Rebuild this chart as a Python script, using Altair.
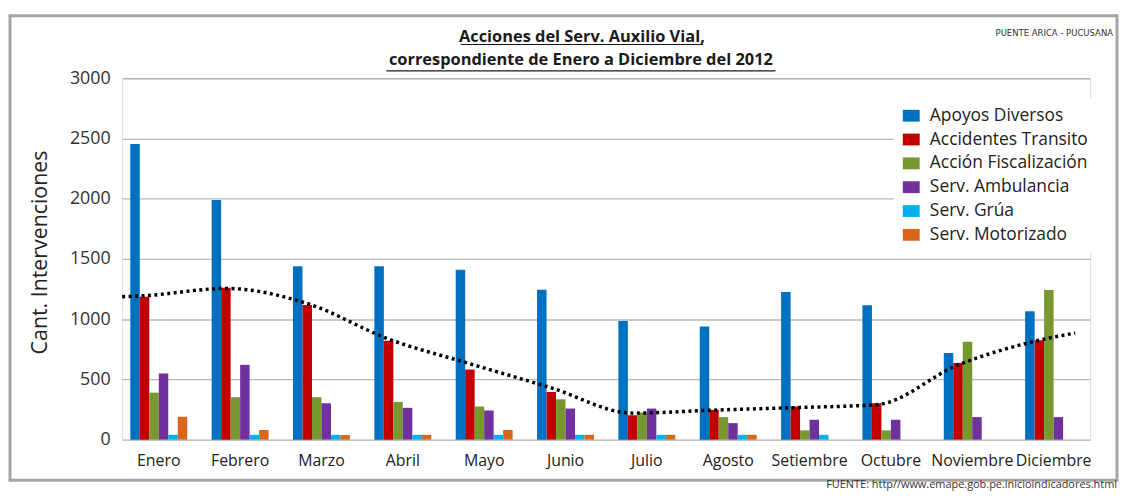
import altair as alt
import pandas as pd

months = ["Enero", "Febrero", "Marzo", "Abril", "Mayo", "Junio", "Julio",
          "Agosto", "Setiembre", "Octubre", "Noviembre", "Diciembre"]
series = ["Apoyos Diversos", "Accidentes Transito", "Acción Fiscalización",
          "Serv. Ambulancia", "Serv. Grúa", "Serv. Motorizado"]
colors = ["#0070C0", "#C00000", "#77982E", "#7030A0", "#00B0F0", "#D9661A"]

apoyos = [2455, 1990, 1440, 1440, 1410, 1245, 985, 940, 1225, 1115, 720, 1065]
accidentes = [1187, 1261, 1118, 821, 582, 396, 203, 247, 275, 302, 637, 824]
fiscalizacion = [390, 352, 352, 313, 275, 335, 225, 187, 77, 77, 813, 1242]
ambulancia = [549, 621, 302, 264, 242, 258, 258, 137, 165, 165, 187, 187]
grua = [40, 40, 40, 40, 40, 40, 40, 40, 40, 0, 0, 0]
motorizado = [190, 80, 38, 40, 80, 40, 40, 40, 0, 0, 0, 0]

# dotted trend curve (month index, value); it runs through
# the tops of the "Accidentes Transito" bars and a little past both ends
trend_idx = [0.725, 1, 2, 3, 4, 5, 6, 7, 8, 9, 10, 11, 12, 12.44]
trend_val = [1187, 1195, 1255, 1130, 835, 630, 430, 220, 245, 266, 290, 620, 825, 885]

y_ticks = [0, 500, 1000, 1500, 2000, 2500, 3000]
title_lines = ["Acciones del Serv. Auxilio Vial,",
               "correspondiente de Enero a Diciembre del 2012"]
y_title = "Cant. Intervenciones"
corner_text = "PUENTE ARICA - PUCUSANA"
source_text = "FUENTE: http//www.emape.gob.pe.inicioindicadores.html"

all_series = [apoyos, accidentes, fiscalizacion, ambulancia, grua, motorizado]
rows = []
for i, m in enumerate(months):
    for s, vals in zip(series, all_series):
        rows.append({"mes": m, "serie": s, "valor": vals[i]})
df = pd.DataFrame(rows)

df_trend = pd.DataFrame({"idx": trend_idx, "valor": trend_val})
one = pd.DataFrame({"k": [0]})

W, H = 975, 364
FONT = "Open Sans"
P_IN, P_OUT = 0.3, 0.1
# quantitative domain matched to the band scale: index k falls on the red (2nd) bar of month k
q_lo = 1 - P_OUT - (1 - P_IN) * 1.5 / len(series)
q_hi = q_lo + (len(months) - P_IN + 2 * P_OUT)

frame = alt.Chart(one).mark_rect(fillOpacity=0, stroke="#a6a6a6", strokeWidth=3).encode(
    x=alt.value(-113), x2=alt.value(W + 27), y=alt.value(-63), y2=alt.value(H + 41)
)

bars = alt.Chart(df).mark_bar().encode(
    x=alt.X("mes:N", sort=months,
            scale=alt.Scale(paddingInner=P_IN, paddingOuter=P_OUT),
            axis=alt.Axis(title=None, labelAngle=0, labelFontSize=16, labelPadding=13,
                          ticks=False, domain=False, grid=False, labelColor="#222222",
                          labelFont=FONT)),
    xOffset=alt.XOffset("serie:N", sort=series,
                        scale=alt.Scale(paddingInner=0, paddingOuter=0)),
    y=alt.Y("valor:Q", scale=alt.Scale(domain=[0, 3000], nice=False),
            axis=alt.Axis(values=y_ticks, format="d", title=y_title, titleFontSize=21.5,
                          titleFontWeight="normal", titleColor="#222222", titleFont=FONT,
                          titlePadding=18, titleY=175, labelFontSize=18, labelColor="#333333",
                          labelFont=FONT, ticks=False, domain=False, labelPadding=12,
                          gridColor="#b8b8b8", gridWidth=1.3)),
    color=alt.Color("serie:N", sort=series,
                    scale=alt.Scale(domain=series, range=colors),
                    legend=alt.Legend(title=None, orient="none", legendX=777, legendY=20,
                                      fillColor="white", padding=9,
                                      symbolType="M-1,-0.7H1V0.7H-1Z", symbolSize=289,
                                      symbolStrokeWidth=0, labelFontSize=17.5, labelFont=FONT,
                                      labelColor="#222222", labelOffset=10, rowPadding=5,
                                      labelLimit=300)),
)

trend = alt.Chart(df_trend).mark_line(
    color="black", strokeDash=[3, 3.5], strokeWidth=3.5, strokeCap="butt",
    interpolate="monotone"
).encode(
    x=alt.X("idx:Q", scale=alt.Scale(domain=[q_lo, q_hi], nice=False, zero=False), axis=None),
    y=alt.Y("valor:Q"),
)

t1 = alt.Chart(one).mark_text(text=title_lines[0], fontSize=16.5, fontWeight="bold", font=FONT,
                              align="center", baseline="alphabetic", color="#1a1a1a").encode(
    x=alt.value(463), y=alt.value(-36.5))
t2 = alt.Chart(one).mark_text(text=title_lines[1], fontSize=16.5, fontWeight="bold", font=FONT,
                              align="center", baseline="alphabetic", color="#1a1a1a").encode(
    x=alt.value(462), y=alt.value(-13))
u1 = alt.Chart(one).mark_rule(color="#1a1a1a", strokeWidth=1.2).encode(
    x=alt.value(341), x2=alt.value(585), y=alt.value(-34))
u2 = alt.Chart(one).mark_rule(color="#1a1a1a", strokeWidth=1.2).encode(
    x=alt.value(266), x2=alt.value(658), y=alt.value(-7.5))
corner = alt.Chart(one).mark_text(text=corner_text, fontSize=9.5,
                                  font="DejaVu Sans Condensed, Open Sans, sans-serif",
                                  align="right", baseline="alphabetic", color="#333333").encode(
    x=alt.value(998), y=alt.value(-43))
source = alt.Chart(one).mark_text(text=source_text, fontSize=11, font=FONT,
                                  align="right", baseline="alphabetic", color="#333333").encode(
    x=alt.value(W + 27), y=alt.value(H + 49))

chart = alt.layer(frame, bars, trend, t1, u1, t2, u2, corner, source).resolve_scale(
    x="independent"
).properties(
    width=W, height=H,
    padding={"left": 0, "top": 4, "right": 0, "bottom": 0},
).configure_view(stroke="#bfbfbf", strokeWidth=1.3).configure(font=FONT)

chart.save("out.html", embed_options={"renderer": "svg", "actions": False})
